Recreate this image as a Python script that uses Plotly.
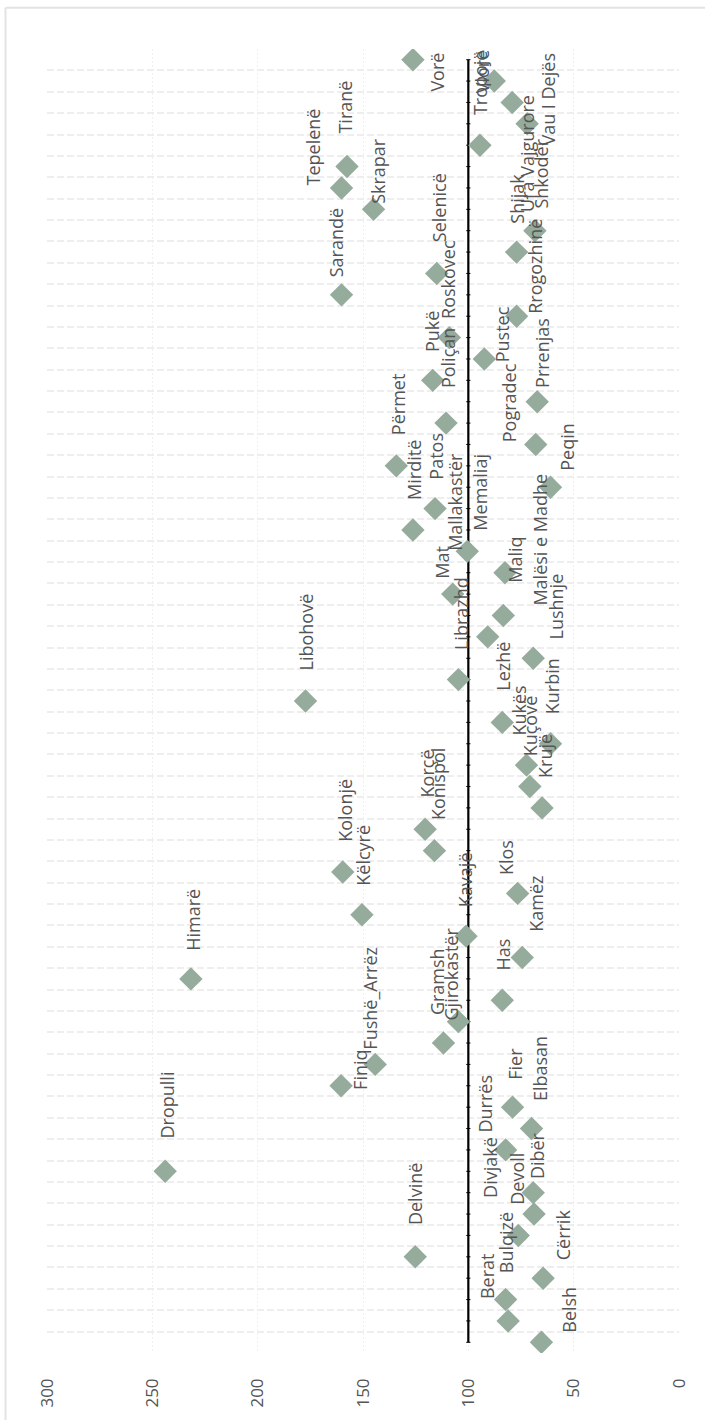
import plotly.graph_objects as go

names = ["Belsh", "Berat", "Bulqizë", "Cërrik", "Delvinë", "Devoll", "Dibër", "Divjakë",
         "Dropulli", "Durrës", "Elbasan", "Fier", "Finiq", "Fushë_Arrëz", "Gjirokastër",
         "Gramsh", "Has", "Himarë", "Kamëz", "Kavajë", "Këlcyrë", "Klos", "Kolonjë",
         "Konispol", "Korçë", "Krujë", "Kuçovë", "Kukës", "Kurbin", "Lezhë", "Libohovë",
         "Librazhd", "Lushnje", "Malësi e Madhe", "Maliq", "Mallakastër", "Mat", "Memaliaj",
         "Mirditë", "Patos", "Peqin", "Përmet", "Pogradec", "Poliçan", "Prrenjas", "Pukë",
         "Pustec", "Roskovec", "Rrogozhinë", "Sarandë", "Selenicë", "Shijak", "Shkodër",
         "Skrapar", "Tepelenë", "Tiranë", "Tropojë", "Ura Vajgurore", "Vau I Dejës",
         "Vlorë", "Vorë"]

values = [65.3, 81.1, 82.3, 64.5, 125.2, 76.3, 68.8, 69.2,
          243.9, 82.3, 70.0, 79.0, 160.4, 144.2, 111.8,
          104.7, 83.9, 231.7, 74.4, 101.1, 150.5, 76.6, 159.6,
          116.1, 120.5, 65.0, 70.8, 72.4, 61.0, 83.9, 177.3,
          104.7, 69.2, 90.8, 83.4, 107.4, 82.6, 100.5,
          126.3, 115.8, 61.0, 134.2, 68.0, 110.6, 67.3, 116.9,
          92.4, 109.0, 77.1, 160.2, 115.0, 77.1, 68.4,
          145.0, 160.2, 157.6, 94.5, 72.1, 79.2,
          87.7, 126.3]

reference_value = 100
value_ticks = [0, 50, 100, 150, 200, 250, 300]

# label offsets (pixels, screen: right, down) — styling only
label_offsets = [(28, -33), (-21, -45), (0, -57), (20, -43), (0, -63), (-1, -57), (3, -58), (-44, -25),
                 (2, -66), (-21, -46), (8, -60), (3, -43), (19, -16), (-5, -66), (8, -69),
                 (-22, -40), (1, -46), (2, -59), (13, -54), (-1, -56), (1, -60), (-11, -36), (2, -62),
                 (3, -67), (2, -56), (3, -52), (0, -61), (-7, -55), (1, -58), (1, -56), (1, -69),
                 (2, -66), (23, -52), (52, -97), (12, -56), (2, -92), (-63, -11), (13, -59),
                 (1, -60), (1, -52), (17, -41), (2, -61), (-26, -42), (2, -65), (4, -49), (0, -49),
                 (18, -25), (-2, -58), (19, -50), (-6, -52), (3, -66), (0, -53), (6, -57),
                 (5, -38), (-29, -41), (-2, -60), (0, -63), (0, 30), (36, -3),
                 (-12, -10), (24, 12)]

idx = list(range(len(names)))
FONT = "Open Sans"
TEXT_COLOR = "#555555"

fig = go.Figure()

fig.add_trace(go.Scatter(
    x=[reference_value] * len(idx), y=idx, mode="lines+markers",
    line=dict(color="black", width=2.2),
    marker=dict(symbol="line-ew", size=3, line=dict(color="black", width=1)),
    hoverinfo="skip", showlegend=False))

fig.add_trace(go.Scatter(
    x=values, y=idx, mode="markers", text=names,
    marker=dict(symbol="diamond", size=18, color="#95ab9c"),
    hovertemplate="%{text}: %{x}<extra></extra>", showlegend=False))

annotations = []
for n, v, i, (dx, dy) in zip(names, values, idx, label_offsets):
    annotations.append(dict(x=v, y=i, xref="x", yref="y", text=n, showarrow=False,
                            textangle=-90, xshift=dx, yshift=-dy,
                            font=dict(family=FONT, size=18, color=TEXT_COLOR)))

W, H = 705, 1420
ml, mr, mt, mb = 47, 26, 49, 60
pw, ph = W - ml - mr, H - mt - mb
bx = (5.5 - ml) / pw
by = 1 + (mt - 7.5) / ph

fig.update_layout(
    width=W, height=H,
    margin=dict(l=ml, r=mr, t=mt, b=mb),
    paper_bgcolor="white", plot_bgcolor="white",
    font=dict(family=FONT, color=TEXT_COLOR),
    hovermode=False,
    annotations=annotations,
    shapes=[
        dict(type="line", xref="paper", yref="paper", x0=bx, x1=1.1, y0=by, y1=by,
             line=dict(color="#e3e3e3", width=2)),
        dict(type="line", xref="paper", yref="paper", x0=bx, x1=bx, y0=by, y1=-0.1,
             line=dict(color="#e3e3e3", width=2)),
    ],
    xaxis=dict(range=[300, 0], tickvals=value_ticks, tickangle=-90,
               showgrid=True, gridcolor="#f0f0f0", gridwidth=1, griddash="2px,2px",
               zeroline=False, showline=False, ticks="", ticklabelstandoff=21,
               tickfont=dict(family=FONT, size=17, color=TEXT_COLOR)),
    yaxis=dict(range=[-0.5, len(names) - 0.5], tick0=-0.5, dtick=1,
               showticklabels=False, showgrid=True, gridcolor="#eeeeee", gridwidth=1.5,
               griddash="7px,3px", zeroline=False, showline=False, ticks=""),
)

fig.write_html("out.html", config={"displayModeBar": False},
               post_script="document.body.style.margin='0';")
